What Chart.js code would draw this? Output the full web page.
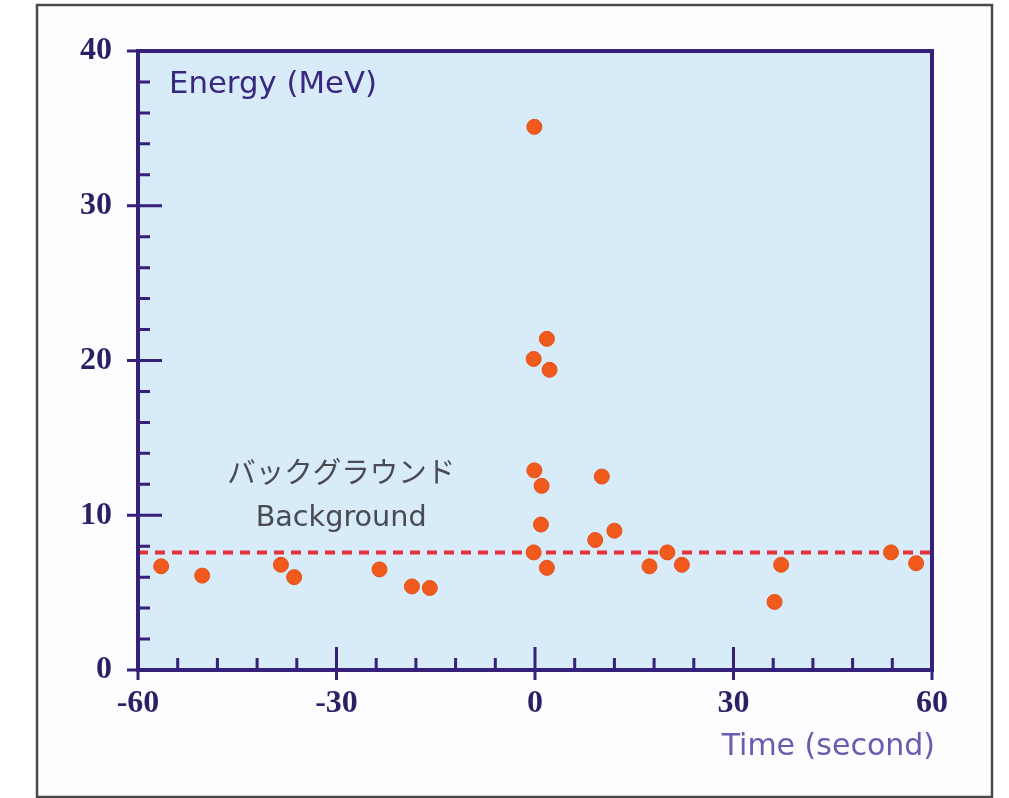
<!DOCTYPE html>
<html>
<head>
<meta charset="utf-8">
<script src="https://cdn.jsdelivr.net/npm/chart.js@4.4.0/dist/chart.umd.min.js"></script>
<style>
  html, body { margin: 0; padding: 0; background: #fff; }
  #wrap { width: 1009px; height: 798px; }
</style>
</head>
<body>
<div id="wrap"><canvas id="energyChart" width="1009" height="798"></canvas></div>
<script>
// detected events: time (s) and energy (MeV)
const eventTime   = [-56.5, -50.3, -38.4, -36.4, -23.5, -18.6, -15.9, -0.1, 1.8, -0.2, 2.2, -0.1, 1.0, 0.9, -0.2, 1.8, 10.1, 12.0, 9.1, 17.3, 20.0, 22.2, 37.2, 36.2, 53.8, 57.6];
const eventEnergy = [6.7, 6.1, 6.8, 6.0, 6.5, 5.4, 5.3, 35.1, 21.4, 20.1, 19.4, 12.9, 11.9, 9.4, 7.6, 6.6, 12.5, 9.0, 8.4, 6.7, 7.6, 6.8, 6.8, 4.4, 7.6, 6.9];

// background level (dashed line)
const backgroundLevel = 7.6;

// axes
const timeTicks   = [-60, -30, 0, 30, 60];
const energyTicks = [0, 10, 20, 30, 40];
const timeMinorStep = 6;
const energyMinorStep = 2;

// texts
const energyLabel = 'Energy (MeV)';
const timeLabel = 'Time (second)';
const bgLabelJa = 'バックグラウンド';
const bgLabelEn = 'Background';

const axisColor = '#36207a';
const tickLabelColor = '#2c1f66';

const points = eventTime.map((t, i) => ({ x: t, y: eventEnergy[i] }));

// white page, grey outer frame, light blue plot area
const backdrop = {
    id: 'backdrop',
    beforeDraw(chart) {
        const ctx = chart.ctx;
        const a = chart.chartArea;
        ctx.save();
        ctx.fillStyle = '#ffffff';
        ctx.fillRect(0, 0, chart.width, chart.height);
        ctx.fillStyle = '#fbfdfe';
        ctx.fillRect(37, 5, 955, 792);
        ctx.strokeStyle = '#4a4a4a';
        ctx.lineWidth = 2.5;
        ctx.strokeRect(37, 5, 955, 792);
        ctx.fillStyle = '#d7ebf8';
        ctx.fillRect(a.left, a.top, a.right - a.left, a.bottom - a.top);
        ctx.restore();
    }
};

// axis lines, crossing major ticks, inward minor ticks and texts
const axesAndTexts = {
    id: 'axesAndTexts',
    afterDraw(chart) {
        const ctx = chart.ctx;
        const a = chart.chartArea;
        const xs = chart.scales.x;
        const ys = chart.scales.y;
        ctx.save();
        ctx.strokeStyle = axisColor;
        ctx.lineCap = 'butt';

        // minor ticks
        ctx.lineWidth = 3;
        ctx.beginPath();
        for (let t = xs.min; t <= xs.max; t += timeMinorStep) {
            if (timeTicks.includes(t)) continue;
            const px = xs.getPixelForValue(t);
            ctx.moveTo(px, a.bottom);
            ctx.lineTo(px, a.bottom - 12);
        }
        for (let e = ys.min; e <= ys.max; e += energyMinorStep) {
            if (energyTicks.includes(e)) continue;
            const py = ys.getPixelForValue(e);
            ctx.moveTo(a.left, py);
            ctx.lineTo(a.left + 12, py);
        }
        ctx.stroke();

        // major ticks
        ctx.lineWidth = 3;
        ctx.beginPath();
        timeTicks.forEach(t => {
            const px = xs.getPixelForValue(t);
            ctx.moveTo(px, a.bottom + 10);
            ctx.lineTo(px, a.bottom - 23);
        });
        energyTicks.forEach(e => {
            const py = ys.getPixelForValue(e);
            ctx.moveTo(a.left - 11, py);
            ctx.lineTo(a.left + 24, py);
        });
        ctx.stroke();

        // plot frame
        ctx.lineWidth = 4;
        ctx.beginPath();
        ctx.moveTo(a.left, a.top);
        ctx.lineTo(a.right, a.top);
        ctx.lineTo(a.right, a.bottom);
        ctx.lineTo(a.left, a.bottom);
        ctx.closePath();
        ctx.stroke();

        // axis titles
        ctx.textBaseline = 'alphabetic';
        ctx.textAlign = 'left';
        ctx.fillStyle = '#3a2780';
        ctx.font = '31px "DejaVu Sans"';
        ctx.fillText(energyLabel, a.left + 31, a.top + 42, 208);

        ctx.textAlign = 'right';
        ctx.fillStyle = '#6b5bb0';
        ctx.font = '30px "DejaVu Sans"';
        ctx.fillText(timeLabel, a.right + 3, a.bottom + 85, 217);

        // background annotation
        const cx = xs.getPixelForValue(-29.3);
        ctx.textAlign = 'center';
        ctx.fillStyle = '#4a4a52';
        ctx.font = '29px "Noto Sans CJK JP"';
        ctx.fillText(bgLabelJa, cx, ys.getPixelForValue(12.1), 228);
        ctx.font = '29px "DejaVu Sans"';
        ctx.fillText(bgLabelEn, cx, ys.getPixelForValue(9.3), 171);
        ctx.restore();
    }
};

new Chart(document.getElementById('energyChart'), {
    type: 'scatter',
    data: {
        datasets: [
            {
                label: 'events',
                data: points,
                backgroundColor: '#f05a1d',
                borderColor: '#e8501a',
                borderWidth: 1,
                pointRadius: 7.5,
                order: 1
            },
            {
                type: 'line',
                label: 'background',
                data: [{ x: -60, y: backgroundLevel }, { x: 60, y: backgroundLevel }],
                borderColor: '#e5333a',
                borderWidth: 4,
                borderDash: [10, 7],
                pointRadius: 0,
                order: 2
            }
        ]
    },
    options: {
        responsive: false,
        animation: false,
        layout: { padding: { left: 0, top: 51, right: 77, bottom: 0 } },
        plugins: {
            legend: { display: false },
            tooltip: { enabled: false }
        },
        scales: {
            x: {
                type: 'linear',
                min: -60,
                max: 60,
                afterFit(scale) { scale.height = 128; },
                afterBuildTicks(scale) { scale.ticks = timeTicks.map(v => ({ value: v })); },
                grid: { display: false, drawTicks: false },
                border: { display: false },
                ticks: {
                    color: tickLabelColor,
                    padding: 15,
                    maxRotation: 0,
                    font: { family: '"Liberation Serif"', size: 32, weight: 'bold' }
                }
            },
            y: {
                min: 0,
                max: 40,
                afterFit(scale) { scale.width = 138; },
                afterBuildTicks(scale) { scale.ticks = energyTicks.map(v => ({ value: v })); },
                grid: { display: false, drawTicks: false },
                border: { display: false },
                ticks: {
                    color: tickLabelColor,
                    padding: 26,
                    font: { family: '"Liberation Serif"', size: 32, weight: 'bold' }
                }
            }
        }
    },
    plugins: [backdrop, axesAndTexts]
});
</script>
</body>
</html>
